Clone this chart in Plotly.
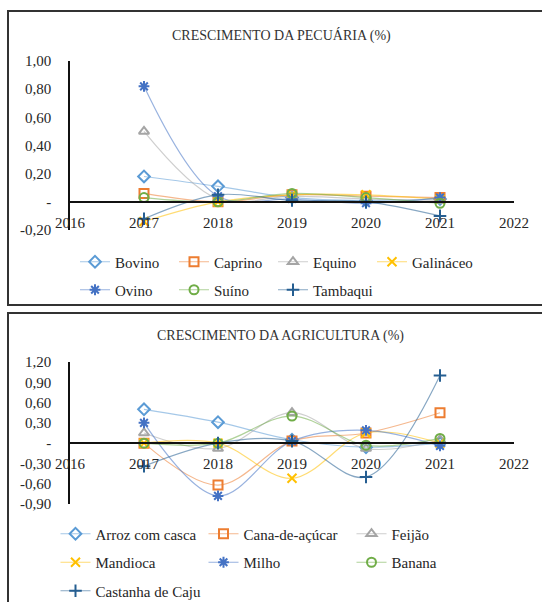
import plotly.graph_objects as go

# Years on the horizontal axis and the values plotted for each series
years = [2017, 2018, 2019, 2020, 2021]
axis_years = [2016, 2017, 2018, 2019, 2020, 2021, 2022]

# Livestock growth (%)
pec_names = ["Bovino", "Caprino", "Equino", "Galináceo", "Ovino", "Suíno", "Tambaqui"]
bovino = [0.18, 0.11, 0.03, 0.01, 0.02]
caprino = [0.06, 0.00, 0.05, 0.04, 0.03]
equino = [0.50, 0.02, 0.04, 0.02, 0.01]
galinaceo = [-0.14, 0.00, 0.05, 0.05, 0.02]
ovino = [0.82, 0.04, 0.02, -0.01, 0.03]
suino = [0.03, 0.00, 0.06, 0.03, -0.01]
tambaqui = [-0.12, 0.05, 0.01, 0.00, -0.10]
pec_values = [bovino, caprino, equino, galinaceo, ovino, suino, tambaqui]
pec_ticks = [-0.2, 0.0, 0.2, 0.4, 0.6, 0.8, 1.0]

# Agriculture growth (%)
agr_names = ["Arroz com casca", "Cana-de-açúcar", "Feijão", "Mandioca", "Milho", "Banana", "Castanha de Caju"]
arroz = [0.50, 0.31, 0.05, -0.06, 0.00]
cana = [0.00, -0.62, 0.03, 0.15, 0.45]
feijao = [0.15, -0.08, 0.45, -0.08, 0.05]
mandioca = [0.00, 0.00, -0.52, 0.15, 0.00]
milho = [0.30, -0.78, 0.03, 0.19, -0.04]
banana = [0.00, 0.00, 0.40, -0.03, 0.07]
castanha = [-0.34, 0.00, 0.03, -0.50, 1.00]
agr_values = [arroz, cana, feijao, mandioca, milho, banana, castanha]
agr_ticks = [-0.9, -0.6, -0.3, 0.0, 0.3, 0.6, 0.9, 1.2]

# Office-style palette and marker symbols, one per series position
colors = ["#5B9BD5", "#ED7D31", "#A5A5A5", "#FFC000", "#4472C4", "#70AD47", "#255E91"]
symbols = ["diamond-open", "square-open", "triangle-up-open", "x-thin-open",
           "asterisk-open", "circle-open", "cross-thin-open"]

W, H = 542, 602
FONT = "Liberation Serif, Tinos, Times New Roman, DejaVu Serif, serif"


def px_x(p):
    return p / W


def px_y(p):
    return 1 - p / H


def rgba(hex_color, a):
    h = hex_color.lstrip("#")
    r, g, b = int(h[0:2], 16), int(h[2:4], 16), int(h[4:6], 16)
    return f"rgba({r},{g},{b},{a})"


def fmt(v):
    if abs(v) < 1e-9:
        return "-"
    return f"{v:.2f}".replace(".", ",")


fig = go.Figure()
legends = {}

# grid of legend entries: (first marker x, column step, first row y, row step, columns)
legend_grids = [
    (100, 99, 262, 28, 4),
    (80.5, 148, 534, 28.5, 3),
]

panels = [
    (pec_names, pec_values, "x", "y", 0),
    (agr_names, agr_values, "x2", "y2", 1),
]

n_leg = 0
for names, values, xa, ya, gi in panels:
    x0, dx, y0, dy, ncol = legend_grids[gi]
    for i, (name, vals) in enumerate(zip(names, values)):
        n_leg += 1
        lid = "legend" if n_leg == 1 else f"legend{n_leg}"
        fig.add_trace(go.Scatter(
            x=years, y=vals, name=name, mode="lines+markers",
            xaxis=xa, yaxis=ya, legend=lid, showlegend=True,
            line=dict(color=rgba(colors[i], 0.55), width=1.2, shape="spline", smoothing=1),
            marker=dict(symbol=symbols[i], size=9, color=colors[i],
                        line=dict(color=colors[i], width=2)),
        ))
        col, row = i % ncol, i // ncol
        mx = x0 + col * dx
        my = y0 + row * dy
        legends[lid] = dict(
            x=px_x(mx - 25), y=px_y(my), xanchor="left", yanchor="middle",
            orientation="h", bgcolor="rgba(0,0,0,0)", borderwidth=0,
            font=dict(family=FONT, size=15, color="#262626"),
            itemclick=False, itemdoubleclick=False,
        )

axis_font = dict(family=FONT, size=15, color="#262626")


def xaxis_cfg(zero_px):
    return dict(
        domain=[px_x(70), px_x(514)], range=[2016, 2022], anchor="free",
        position=px_y(zero_px), showline=True, linecolor="#111", linewidth=2,
        tickvals=axis_years, ticktext=[str(y) for y in axis_years],
        ticks="outside", ticklen=7, tickcolor="rgba(0,0,0,0)",
        showgrid=False, zeroline=False, tickfont=axis_font, automargin=False,
    )


def yaxis_cfg(anchor, top_px, bottom_px, rng, ticks):
    return dict(
        domain=[px_y(bottom_px), px_y(top_px)], range=rng, anchor=anchor,
        showline=True, linecolor="#111", linewidth=1.5,
        tickvals=ticks, ticktext=[fmt(v) for v in ticks],
        ticks="outside", ticklen=14, tickcolor="rgba(0,0,0,0)",
        showgrid=False, zeroline=False, tickfont=axis_font, automargin=False,
    )


fig.update_layout(
    width=W, height=H, margin=dict(l=0, r=0, t=0, b=0, autoexpand=False),
    paper_bgcolor="white", plot_bgcolor="white", template="none",
    showlegend=True,
    font=dict(family=FONT, color="#262626"),
    xaxis=xaxis_cfg(202),
    yaxis=yaxis_cfg("x", 61, 230, [-0.2, 1.0], pec_ticks),
    xaxis2=xaxis_cfg(443),
    yaxis2=yaxis_cfg("x2", 362, 504, [-0.9, 1.2], agr_ticks),
    **legends,
    shapes=[
        dict(type="rect", xref="paper", yref="paper",
             x0=px_x(8), x1=px_x(546), y0=px_y(305), y1=px_y(11),
             line=dict(color="#333", width=2), fillcolor="rgba(0,0,0,0)"),
        dict(type="rect", xref="paper", yref="paper",
             x0=px_x(8), x1=px_x(546), y0=px_y(612), y1=px_y(313),
             line=dict(color="#333", width=2), fillcolor="rgba(0,0,0,0)"),
    ],
    annotations=[
        dict(text="CRESCIMENTO DA PECUÁRIA (%)", x=px_x(281), y=px_y(36),
             xref="paper", yref="paper", xanchor="center", yanchor="middle",
             showarrow=False, font=dict(family=FONT, size=14, color="#333")),
        dict(text="CRESCIMENTO DA AGRICULTURA (%)", x=px_x(280), y=px_y(336),
             xref="paper", yref="paper", xanchor="center", yanchor="middle",
             showarrow=False, font=dict(family=FONT, size=14, color="#333")),
    ],
)

fig.write_html("out.html")
